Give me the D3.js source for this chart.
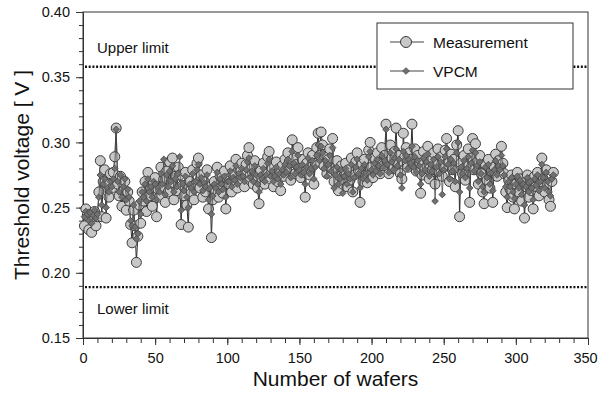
<!DOCTYPE html>
<html>
<head>
<meta charset="utf-8">
<script src="https://cdn.jsdelivr.net/npm/d3@7"></script>
<style>
  body { margin: 0; background: #fff; }
  svg { font-family: "Liberation Sans", Arial, sans-serif; }
</style>
</head>
<body>
<svg id="chart"></svg>
<script>
// measured threshold voltage per wafer (V)
var measurement = [
  0.236, 0.249, 0.244, 0.233, 0.245, 0.231, 0.240, 0.247, 0.236, 0.243,
  0.262, 0.286, 0.243, 0.270, 0.279, 0.242, 0.268, 0.258, 0.276, 0.265,
  0.277, 0.289, 0.311, 0.268, 0.259, 0.274, 0.251, 0.263, 0.270, 0.248,
  0.262, 0.255, 0.237, 0.223, 0.248, 0.236, 0.208, 0.228, 0.252, 0.238,
  0.262, 0.255, 0.270, 0.247, 0.277, 0.259, 0.265, 0.251, 0.269, 0.273,
  0.243, 0.264, 0.258, 0.281, 0.266, 0.272, 0.254, 0.278, 0.262, 0.285,
  0.269, 0.288, 0.256, 0.274, 0.263, 0.281, 0.275, 0.237, 0.267, 0.259,
  0.277, 0.252, 0.235, 0.270, 0.261, 0.279, 0.256, 0.268, 0.284, 0.288,
  0.265, 0.275, 0.258, 0.270, 0.262, 0.279, 0.249, 0.266, 0.227, 0.256,
  0.270, 0.263, 0.281, 0.258, 0.274, 0.266, 0.261, 0.278, 0.249, 0.272,
  0.268, 0.282, 0.262, 0.275, 0.270, 0.287, 0.265, 0.279, 0.272, 0.284,
  0.275, 0.266, 0.283, 0.290, 0.296, 0.271, 0.280, 0.268, 0.286, 0.274,
  0.265, 0.253, 0.278, 0.270, 0.284, 0.268, 0.276, 0.289, 0.293, 0.272,
  0.280, 0.266, 0.275, 0.285, 0.270, 0.278, 0.263, 0.282, 0.274, 0.287,
  0.279, 0.292, 0.285, 0.271, 0.302, 0.288, 0.276, 0.283, 0.296, 0.280,
  0.273, 0.287, 0.277, 0.258, 0.284, 0.292, 0.275, 0.281, 0.290, 0.268,
  0.284, 0.296, 0.307, 0.290, 0.308, 0.298, 0.282, 0.291, 0.276, 0.287,
  0.295, 0.280, 0.303, 0.270, 0.278, 0.286, 0.263, 0.274, 0.282, 0.268,
  0.277, 0.284, 0.266, 0.279, 0.271, 0.288, 0.262, 0.275, 0.285, 0.292,
  0.278, 0.254, 0.283, 0.270, 0.287, 0.275, 0.269, 0.294, 0.300, 0.281,
  0.273, 0.288, 0.279, 0.292, 0.284, 0.276, 0.296, 0.282, 0.290, 0.314,
  0.285, 0.276, 0.298, 0.288, 0.280, 0.293, 0.311, 0.284, 0.290, 0.276,
  0.272, 0.307, 0.289, 0.296, 0.281, 0.292, 0.287, 0.314, 0.283, 0.295,
  0.278, 0.290, 0.284, 0.261, 0.275, 0.293, 0.280, 0.288, 0.297, 0.272,
  0.286, 0.279, 0.292, 0.268, 0.283, 0.295, 0.277, 0.289, 0.274, 0.281,
  0.294, 0.303, 0.285, 0.270, 0.291, 0.279, 0.287, 0.266, 0.298, 0.309,
  0.243, 0.284, 0.276, 0.290, 0.271, 0.282, 0.295, 0.254, 0.288, 0.303,
  0.279, 0.299, 0.285, 0.268, 0.290, 0.276, 0.262, 0.253, 0.283, 0.271,
  0.287, 0.265, 0.278, 0.254, 0.281, 0.291, 0.274, 0.286, 0.280, 0.297,
  0.284, 0.276, 0.262, 0.250, 0.271, 0.264, 0.275, 0.258, 0.249, 0.268,
  0.277, 0.262, 0.272, 0.255, 0.269, 0.242, 0.266, 0.275, 0.258, 0.271,
  0.263, 0.249, 0.274, 0.266, 0.277, 0.259, 0.270, 0.288, 0.272, 0.262,
  0.279, 0.268, 0.256, 0.251, 0.270, 0.277
];
// VPCM model prediction per wafer (V)
var vpcm = [
  0.243, 0.247, 0.245, 0.240, 0.246, 0.238, 0.244, 0.248, 0.242, 0.245,
  0.258, 0.275, 0.252, 0.268, 0.272, 0.250, 0.265, 0.262, 0.270, 0.266,
  0.272, 0.280, 0.310, 0.270, 0.262, 0.275, 0.258, 0.266, 0.272, 0.256,
  0.264, 0.258, 0.240, 0.236, 0.252, 0.235, 0.226, 0.230, 0.255, 0.245,
  0.262, 0.258, 0.268, 0.255, 0.272, 0.262, 0.266, 0.258, 0.270, 0.268,
  0.256, 0.265, 0.262, 0.276, 0.268, 0.287, 0.260, 0.275, 0.266, 0.278,
  0.270, 0.282, 0.262, 0.272, 0.266, 0.276, 0.289, 0.248, 0.268, 0.263,
  0.274, 0.258, 0.250, 0.268, 0.265, 0.276, 0.262, 0.270, 0.279, 0.283,
  0.268, 0.273, 0.263, 0.269, 0.266, 0.275, 0.256, 0.265, 0.245, 0.259,
  0.268, 0.265, 0.277, 0.262, 0.272, 0.268, 0.264, 0.274, 0.258, 0.270,
  0.270, 0.278, 0.266, 0.273, 0.271, 0.282, 0.268, 0.276, 0.273, 0.280,
  0.274, 0.270, 0.279, 0.285, 0.288, 0.273, 0.278, 0.270, 0.282, 0.275,
  0.268, 0.262, 0.275, 0.272, 0.280, 0.270, 0.275, 0.284, 0.287, 0.274,
  0.278, 0.270, 0.274, 0.281, 0.272, 0.276, 0.268, 0.279, 0.275, 0.283,
  0.277, 0.287, 0.282, 0.273, 0.293, 0.284, 0.276, 0.281, 0.290, 0.279,
  0.275, 0.283, 0.277, 0.268, 0.281, 0.288, 0.276, 0.280, 0.286, 0.272,
  0.281, 0.290, 0.298, 0.286, 0.297, 0.292, 0.280, 0.286, 0.274, 0.283,
  0.290, 0.278, 0.296, 0.265, 0.275, 0.281, 0.268, 0.272, 0.279, 0.261,
  0.274, 0.280, 0.268, 0.276, 0.272, 0.283, 0.262, 0.273, 0.281, 0.287,
  0.276, 0.265, 0.280, 0.272, 0.283, 0.276, 0.271, 0.289, 0.293, 0.279,
  0.275, 0.284, 0.278, 0.287, 0.282, 0.276, 0.290, 0.281, 0.286, 0.310,
  0.283, 0.277, 0.292, 0.285, 0.279, 0.288, 0.295, 0.282, 0.287, 0.275,
  0.265, 0.293, 0.286, 0.290, 0.280, 0.287, 0.284, 0.297, 0.281, 0.289,
  0.277, 0.286, 0.282, 0.268, 0.276, 0.288, 0.279, 0.285, 0.291, 0.274,
  0.283, 0.278, 0.287, 0.255, 0.281, 0.289, 0.276, 0.285, 0.260, 0.279,
  0.289, 0.295, 0.283, 0.272, 0.287, 0.278, 0.284, 0.270, 0.292, 0.300,
  0.262, 0.281, 0.276, 0.286, 0.273, 0.280, 0.289, 0.265, 0.284, 0.294,
  0.278, 0.292, 0.282, 0.270, 0.285, 0.276, 0.266, 0.262, 0.281, 0.273,
  0.283, 0.268, 0.277, 0.263, 0.279, 0.286, 0.275, 0.282, 0.279, 0.290,
  0.282, 0.275, 0.266, 0.258, 0.270, 0.266, 0.273, 0.262, 0.257, 0.268,
  0.274, 0.265, 0.271, 0.260, 0.268, 0.252, 0.266, 0.273, 0.262, 0.270,
  0.265, 0.256, 0.272, 0.267, 0.275, 0.263, 0.270, 0.283, 0.273, 0.265,
  0.277, 0.270, 0.262, 0.259, 0.272, 0.275
];
var limits = [
  {name: "Upper limit", value: 0.358},
  {name: "Lower limit", value: 0.189}
];
var xTicks = [0, 50, 100, 150, 200, 250, 300, 350];
var yTicks = [0.15, 0.20, 0.25, 0.30, 0.35, 0.40];

var width = 599, height = 394;
var margin = {top: 12, right: 11, bottom: 56, left: 83};

var svg = d3.select("#chart")
  .attr("width", width)
  .attr("height", height);

var x = d3.scaleLinear().domain([0, 350]).range([margin.left, width - margin.right]);
var y = d3.scaleLinear().domain([0.15, 0.40]).range([height - margin.bottom, margin.top]);

// frame
svg.append("rect")
  .attr("x", x(0)).attr("y", y(0.40))
  .attr("width", x(350) - x(0)).attr("height", y(0.15) - y(0.40))
  .attr("fill", "none").attr("stroke", "#333").attr("stroke-width", 1);

// minor ticks
svg.append("g")
  .attr("transform", "translate(" + x(0) + ",0)")
  .call(d3.axisLeft(y).tickValues(d3.range(15, 41).map(function(d){ return d / 100; }))
    .tickSize(4).tickFormat(""))
  .call(function(g){ g.select(".domain").remove(); });
svg.append("g")
  .attr("transform", "translate(0," + y(0.15) + ")")
  .call(d3.axisBottom(x).tickValues(d3.range(0, 351, 10)).tickSize(5).tickFormat(""))
  .call(function(g){ g.select(".domain").remove(); });

// major ticks + labels
var yAxis = svg.append("g")
  .attr("transform", "translate(" + x(0) + ",0)")
  .call(d3.axisLeft(y).tickValues(yTicks).tickSize(7).tickPadding(6).tickFormat(d3.format(".2f")));
var xAxis = svg.append("g")
  .attr("transform", "translate(0," + y(0.15) + ")")
  .call(d3.axisBottom(x).tickValues(xTicks).tickSize(7).tickPadding(8).tickFormat(d3.format("d")));

[yAxis, xAxis].forEach(function(g){
  g.select(".domain").attr("stroke", "#333");
  g.selectAll("text").attr("font-size", 14.5).attr("fill", "#111")
    .attr("font-family", "Liberation Sans, Arial, sans-serif");
});
// last x label sits against the right edge
xAxis.selectAll(".tick text").filter(function(d){ return d === 350; }).attr("dx", -3);
svg.selectAll(".tick line").attr("stroke", "#333");

// axis titles
svg.append("text")
  .attr("transform", "translate(29," + ((y(0.15) + y(0.40)) / 2) + ") rotate(-90)")
  .attr("text-anchor", "middle")
  .attr("font-size", 21).attr("fill", "#111")
  .text("Threshold voltage [ V ]");
svg.append("text")
  .attr("x", (x(0) + x(350)) / 2).attr("y", 386)
  .attr("text-anchor", "middle")
  .attr("font-size", 21).attr("fill", "#111")
  .text("Number of wafers");

// limit lines
svg.selectAll(".limit").data(limits).enter().append("line")
  .attr("class", "limit")
  .attr("x1", x(0) + 2).attr("x2", x(350))
  .attr("y1", function(d){ return y(d.value); })
  .attr("y2", function(d){ return y(d.value); })
  .attr("stroke", "#111").attr("stroke-width", 2.4).attr("stroke-dasharray", "2,1.7");
svg.append("text").attr("x", x(0) + 14).attr("y", y(0.358) - 14)
  .attr("font-size", 15).attr("fill", "#111").text(limits[0].name);
svg.append("text").attr("x", x(0) + 14).attr("y", y(0.189) + 27)
  .attr("font-size", 15).attr("fill", "#111").text(limits[1].name);

var line = d3.line()
  .x(function(d, i){ return x(i + 1); })
  .y(function(d){ return y(d); });
var diamond = d3.symbol().type(d3.symbolSquare).size(22);

// measurement series
svg.append("path").datum(measurement)
  .attr("d", line).attr("fill", "none").attr("stroke", "#2e2e2e").attr("stroke-width", 1);
svg.append("g").selectAll("circle").data(measurement).enter().append("circle")
  .attr("cx", function(d, i){ return x(i + 1); })
  .attr("cy", function(d){ return y(d); })
  .attr("r", 5)
  .attr("fill", "#c8c8c8").attr("stroke", "#3a3a3a").attr("stroke-width", 1);

// VPCM series
svg.append("path").datum(vpcm)
  .attr("d", line).attr("fill", "none").attr("stroke", "#4a4a4a").attr("stroke-width", 0.8);
svg.append("g").selectAll("path").data(vpcm).enter().append("path")
  .attr("d", diamond)
  .attr("transform", function(d, i){ return "translate(" + x(i + 1) + "," + y(d) + ") rotate(45)"; })
  .attr("fill", "#707070").attr("stroke", "#4a4a4a").attr("stroke-width", 0.8);

// legend
var legend = svg.append("g").attr("transform", "translate(377,23)");
legend.append("rect").attr("width", 196).attr("height", 66)
  .attr("fill", "#fff").attr("stroke", "#333").attr("stroke-width", 1);
var entries = [{name: "Measurement", type: "circle"}, {name: "VPCM", type: "diamond"}];
var item = legend.selectAll(".item").data(entries).enter().append("g")
  .attr("transform", function(d, i){ return "translate(0," + (19 + i * 29) + ")"; });
item.append("line").attr("x1", 13).attr("x2", 47)
  .attr("stroke", "#444").attr("stroke-width", 1);
item.filter(function(d){ return d.type === "circle"; }).append("circle")
  .attr("cx", 29).attr("r", 5.5)
  .attr("fill", "#c8c8c8").attr("stroke", "#3a3a3a");
item.filter(function(d){ return d.type === "diamond"; }).append("path")
  .attr("d", diamond).attr("transform", "translate(29,0) rotate(45)")
  .attr("fill", "#707070").attr("stroke", "#4a4a4a").attr("stroke-width", 0.8);
item.append("text").attr("x", 56).attr("y", 5.5)
  .attr("font-size", 15.5).attr("fill", "#111")
  .text(function(d){ return d.name; });
</script>
</body>
</html>
